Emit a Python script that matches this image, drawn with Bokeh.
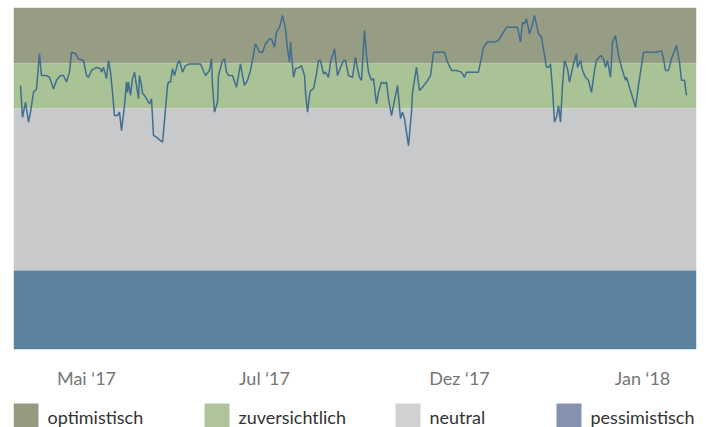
from bokeh.plotting import figure
from bokeh.models import Range1d, FixedTicker
from bokeh.layouts import column
from bokeh.embed import file_html
from bokeh.resources import INLINE
from bokeh.core.properties import value

# ---------------- data ----------------
categories = ["optimistisch", "zuversichtlich", "neutral", "pessimistisch"]
band_lower = [83.6, 70.5, 23.1, 0.0]
band_upper = [100.0, 83.6, 70.5, 23.1]
band_colors = ["#979c85", "#a9c397", "#c8c9cb", "#5c84a0"]
legend_colors = ["#969a7e", "#b1c39c", "#d1d1d2", "#8591b1"]

tick_positions = [73, 251, 446, 629]
tick_labels = ["Mai \u201817", "Jul \u201817", "Dez \u201817", "Jan \u201818"]

day = [7, 9, 12, 15, 17, 20, 23, 26, 28, 33, 36, 40, 43, 47, 50, 53, 56, 58, 62, 65,
       70, 73, 75, 78, 83, 87, 88, 90, 93, 95, 97, 99, 101, 104, 106, 108, 111, 113,
       114, 115, 117, 119, 121, 123, 125, 126, 128, 129, 131, 134, 136, 138, 140, 143,
       145, 149, 150, 154, 155, 157, 159, 161, 164, 166, 169, 172, 176, 182, 187, 192,
       196, 198, 199, 201, 204, 205, 209, 211, 213, 215, 219, 223,
       227, 229, 231, 234, 237, 241, 242, 246, 249, 252, 256, 258, 261, 263, 266, 269,
       272, 274, 276, 277, 280, 282, 286, 288, 291, 292, 294, 296, 297, 300, 303, 305,
       307, 310, 312, 315, 317, 321, 324, 327, 330, 332, 335, 339,
       342, 344, 346, 348, 351, 353, 355, 358, 360, 363, 365, 368, 371, 373, 375, 378,
       381, 384, 387, 389, 391, 393, 395, 398, 399, 403, 406, 409, 413, 417, 420, 424,
       431, 434, 438, 443, 448, 451,
       453, 458, 465, 470, 474, 481, 485, 490, 493, 500, 504, 507, 509, 511, 513, 516,
       519, 521, 525, 528, 531, 533, 535, 537, 539, 541, 543, 545, 547, 549, 551, 554,
       556, 560, 563,
       564, 567, 569, 572, 575, 578, 581, 583, 587, 590, 592, 594, 597, 599, 602, 605,
       608, 612, 613, 617, 620, 622, 625, 630, 637, 643, 648, 650, 652, 655, 658, 663,
       666, 668, 671, 673]

sentiment = [77.2, 67.9, 72.3, 66.5, 69.4, 75.2, 76.2, 86.5, 80.1, 80.1, 79.6, 76.2, 78.7, 80.1, 80.1, 78.2, 81.1, 86.9, 86.5, 85.0,
             84.5, 80.1, 79.6, 81.6, 82.5, 82.1, 81.1, 82.5, 79.2, 84.5, 81.1, 75.2, 68.4, 68.4, 69.4, 64.0, 71.3, 78.2,
             75.2, 78.2, 74.3, 79.2, 81.1, 77.2, 73.3, 80.1, 77.2, 74.8, 74.3, 72.8, 71.8, 73.3, 62.6, 62.1,
             61.6, 60.6, 63.5, 77.2, 78.2, 78.2, 82.1, 80.1, 83.5, 84.5, 81.1, 83.0, 83.5, 83.5, 83.5, 80.1,
             81.6, 85.0, 77.2, 69.4, 72.3, 80.1, 84.5, 85.0, 81.1, 80.1, 80.1, 76.7,
             83.5, 80.1, 77.2, 78.7, 81.6, 87.9, 89.4, 86.9, 86.9, 89.4, 90.8, 90.8, 88.4, 92.8, 94.2, 97.7,
             93.8, 87.9, 84.0, 89.9, 79.6, 82.1, 82.5, 83.0, 80.1, 75.2, 69.4, 74.3, 75.7, 76.2, 80.6, 84.5,
             84.5, 80.6, 81.1, 79.6, 84.0, 87.9, 80.1, 82.5, 84.5, 84.5, 80.1, 79.6,
             85.5, 82.1, 79.6, 78.7, 93.3, 86.0, 81.1, 78.7, 79.2, 71.8, 75.2, 78.2, 77.7, 78.2, 73.3, 68.4,
             72.8, 77.2, 67.5, 69.4, 67.5, 63.5, 59.6, 69.4, 75.2, 82.5, 75.7, 76.7, 78.2, 80.1, 86.9, 86.9,
             86.9, 84.0, 81.6, 81.6, 81.1, 79.6,
             81.1, 81.1, 81.1, 88.4, 89.9, 89.9, 90.4, 92.8, 94.2, 94.2, 94.2, 89.9, 95.7, 95.2, 96.7, 92.3,
             95.2, 97.7, 92.3, 91.3, 86.0, 82.5, 82.5, 83.5, 76.2, 66.5, 67.9, 71.3, 66.5, 77.2, 84.5, 82.1,
             78.2, 83.5, 86.5,
             82.5, 84.5, 81.6, 79.6, 78.7, 75.2, 81.6, 84.5, 86.0, 85.0, 82.5, 84.5, 79.6, 89.9, 91.8, 86.0,
             82.5, 78.7, 79.6, 75.7, 72.8, 70.8, 77.2, 86.9, 86.9, 86.9, 87.4, 85.0, 81.6, 81.6, 85.0, 88.9,
             84.0, 78.7, 78.7, 74.3]

assert len(day) == len(sentiment), (len(day), len(sentiment))

X_MIN, X_MAX = 0, 683
Y_MIN, Y_MAX = 0, 100

# ---------------- main chart ----------------
p = figure(width=706, height=395, x_range=Range1d(X_MIN, X_MAX), y_range=Range1d(Y_MIN, Y_MAX),
           output_backend="svg", toolbar_location=None,
           min_border_left=13, min_border_right=10, min_border_top=7, min_border_bottom=46)
p.outline_line_color = None
p.background_fill_color = "white"
p.border_fill_color = "white"
p.xgrid.visible = False
p.ygrid.visible = False
p.yaxis.visible = False

p.quad(left=X_MIN, right=X_MAX, bottom=band_lower, top=band_upper,
       fill_color=band_colors, line_color=None)
p.line(day, sentiment, line_color="#416d8f", line_width=1.5)

ax = p.xaxis[0]
ax.ticker = FixedTicker(ticks=tick_positions)
ax.major_label_overrides = {t: l for t, l in zip(tick_positions, tick_labels)}
ax.axis_line_color = None
ax.major_tick_line_color = None
ax.minor_tick_line_color = None
ax.major_label_standoff = 11
ax.major_label_text_font = "Lato"
ax.major_label_text_font_size = "18px"
ax.major_label_text_color = "#767676"

# ---------------- legend strip (frame aligned with the chart frame: x = page px) ----------------
swatch_left = [13, 204, 395, 556]
swatch_w = 25
lf = figure(width=706, height=32, x_range=Range1d(13, 696), y_range=Range1d(32, 0),
            output_backend="svg", toolbar_location=None,
            min_border_left=13, min_border_right=10, min_border_top=0, min_border_bottom=0)
lf.axis.visible = False
lf.grid.visible = False
lf.outline_line_color = None
lf.background_fill_color = "white"
lf.border_fill_color = "white"
lf.quad(left=swatch_left, right=[l + swatch_w for l in swatch_left], top=8, bottom=32,
        fill_color=legend_colors, line_color=None)
lf.text(x=[l + swatch_w + 9 for l in swatch_left], y=21, text=categories,
        text_font=value("Lato"), text_font_size="18px", text_color="#333333",
        text_baseline="alphabetic", text_align="left")

layout = column(p, lf, spacing=0)
open("out.html", "w").write(file_html(layout, INLINE))
